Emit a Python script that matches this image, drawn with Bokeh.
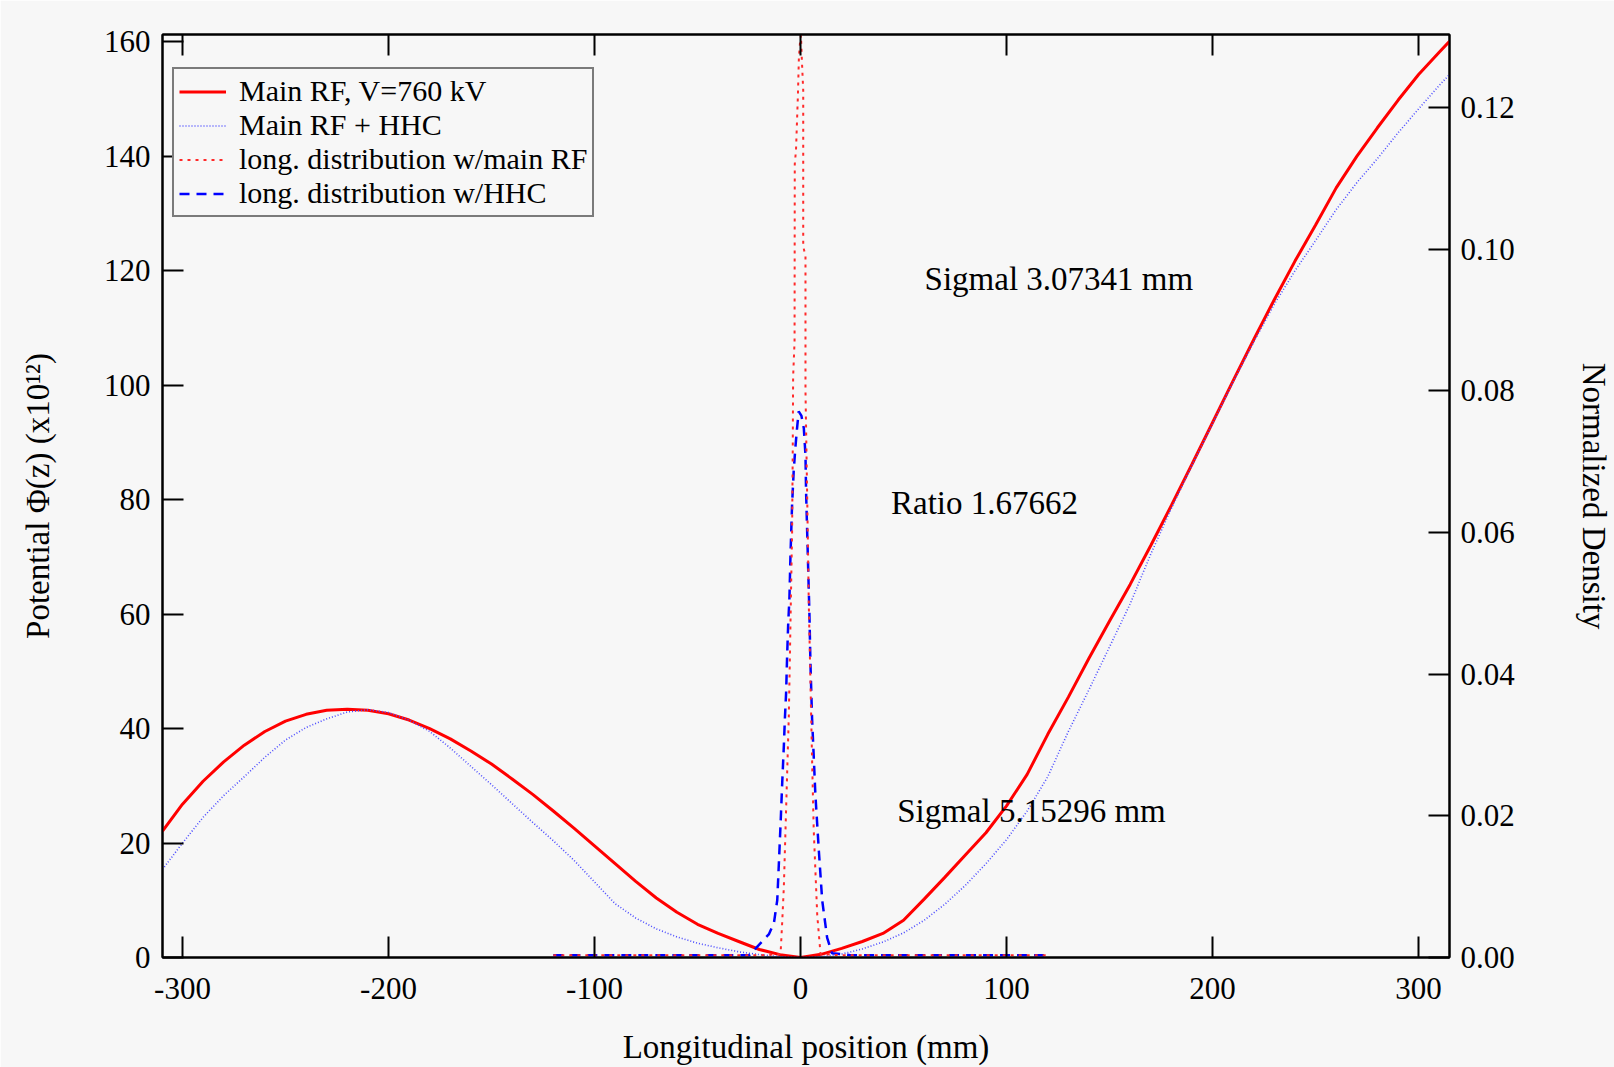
from bokeh.plotting import figure
from bokeh.models import (Range1d, LinearAxis, FixedTicker, PrintfTickFormatter,
                          Label, Legend, LegendItem)
from bokeh.embed import file_html
from bokeh.resources import INLINE

# ---------------- data ----------------
z_rf = [-309.7, -300, -290, -280, -270, -260, -250, -240, -230, -220, -210, -200,
        -190, -180, -170, -160, -150, -140, -130, -120, -110, -100, -90, -80, -70,
        -60, -50, -40, -30, -20, -10, 0, 10, 20, 30, 40, 50, 60, 70, 80, 90, 100,
        110, 120, 130, 140, 150, 160, 170, 180, 190, 200, 210, 220, 230, 240, 250,
        260, 270, 280, 290, 300, 310, 315]
phi_rf = [22.1, 26.8, 30.8, 34.2, 37.1, 39.5, 41.3, 42.5, 43.2, 43.4, 43.2, 42.6,
          41.5, 40.0, 38.2, 36.1, 33.8, 31.2, 28.5, 25.6, 22.6, 19.5, 16.4, 13.3, 10.4,
          7.9, 5.8, 4.2, 2.8, 1.4, 0.5, 0.0, 0.55, 1.6, 2.8, 4.2, 6.5, 10.2, 14.0, 17.9,
          21.8, 26.5, 32.0, 39.0, 45.5, 52.3, 58.8, 65.2, 72.0, 79.0, 86.2, 93.5,
          100.8, 108.0, 115.0, 121.7, 128.0, 134.5, 140.0, 145.0, 149.8, 154.3,
          158.2, 160.1]

z_hhc = [-309.7, -300, -290, -280, -270, -260, -250, -240, -230, -220, -210, -200,
         -190, -180, -170, -160, -150, -140, -130, -120, -110, -100, -90, -80, -70,
         -60, -50, -40, -30, -20, -10, 0, 10, 20, 30, 40, 50, 60, 70, 80, 90, 100,
         110, 120, 130, 140, 150, 160, 170, 180, 190, 200, 210, 220, 230, 240, 250,
         260, 270, 280, 290, 300, 310, 315]
phi_hhc = [15.4, 20.0, 24.5, 28.3, 31.6, 35.0, 38.0, 40.2, 41.7, 42.9, 43.3, 42.8,
           41.5, 39.5, 36.6, 33.4, 30.2, 26.9, 23.6, 20.4, 17.0, 13.2, 9.4, 6.9, 5.0,
           3.6, 2.5, 1.7, 1.0, 0.5, 0.15, 0.0, 0.15, 0.6, 1.5, 2.7, 4.3, 6.5, 9.3,
           12.6, 16.4, 20.6, 25.6, 31.6, 39.5, 46.8, 54.3, 61.8, 70.5, 78.5, 86.0,
           93.3, 100.6, 107.6, 114.2, 120.0, 125.3, 130.7, 135.4, 139.6, 144.1, 148.3,
           152.4, 154.3]

z_dist_rf = [-120, -60, -20, -9.7, -8.9, -8.1, -7.3, -6.5, -5.7, -5.2, -4.6, -4.1,
             -3.8, -3.6, -2.9, -2.8, -2.2, -1.3, -0.8, -0.3, 0.2, 0.6, 1.3, 1.3, 2.4,
             2.4, 2.9, 3.5, 4.0, 4.8, 5.6, 6.4, 8.1, 9.7, 20, 60, 120]
rho_dist_rf = [0.0003, 0.0003, 0.0003, 0.0005, 0.005, 0.010, 0.018, 0.026, 0.034, 0.042,
               0.052, 0.060, 0.071, 0.082, 0.087, 0.112, 0.114, 0.1215, 0.127, 0.129,
               0.1302, 0.127, 0.1224, 0.1004, 0.099, 0.080, 0.071, 0.060, 0.050, 0.039,
               0.028, 0.018, 0.006, 0.0005, 0.0003, 0.0003, 0.0003]

z_dist_hhc = [-120, -60, -25, -15.3, -12.9, -11.3, -10.5, -9.7, -8.9, -8.1, -7.6, -7.0,
              -6.5, -6.0, -5.4, -4.9, -4.1, -3.3, -2.5, -1.7, -0.9, 0.4, 1.6, 2.4, 2.7,
              3.2, 3.7, 4.3, 4.8, 5.6, 6.4, 7.2, 8.9, 10.5, 12.9, 15.3, 25, 60, 120]
rho_dist_hhc = [0.0003, 0.0003, 0.0003, 0.0033, 0.0049, 0.0081, 0.0134, 0.0188, 0.0246,
                0.0299, 0.0337, 0.0374, 0.0427, 0.047, 0.0507, 0.0566, 0.064, 0.0688,
                0.072, 0.0747, 0.0771, 0.0765, 0.0747, 0.0709, 0.0656, 0.0603, 0.055,
                0.0486, 0.0416, 0.0337, 0.0284, 0.023, 0.015, 0.0081, 0.0028, 0.0006,
                0.0003, 0.0003, 0.0003]

x_ticks = [-300, -200, -100, 0, 100, 200, 300]
phi_ticks = [0, 20, 40, 60, 80, 100, 120, 140, 160]
rho_ticks = [0.0, 0.02, 0.04, 0.06, 0.08, 0.10, 0.12]

legend_labels = ["Main RF, V=760 kV", "Main RF + HHC",
                 "long. distribution w/main RF", "long. distribution w/HHC"]
note_sigma_rf = "Sigmal 3.07341 mm"
note_ratio = "Ratio 1.67662"
note_sigma_hhc = "Sigmal 5.15296 mm"

x_label = "Longitudinal position (mm)"
y_label = "Potential \u03a6(z) (x10\u00b9\u00b2)"
y2_label = "Normalized Density"

# ---------------- styling ----------------
BG = "#f7f7f7"
FONT = "Liberation Serif"
TICK_SIZE = "31px"

p = figure(width=1614, height=1067,
           x_range=Range1d(-309.7, 315), y_range=Range1d(0, 161.3),
           output_backend="svg", toolbar_location=None,
           min_border_left=162, min_border_right=161,
           min_border_top=34, min_border_bottom=108,
           background_fill_color=BG, border_fill_color=BG)
p.grid.visible = False
p.outline_line_color = "black"
p.outline_line_width = 2
p.extra_y_ranges = {"dens": Range1d(0, 0.1303)}

left = p.yaxis[0]
bottom = p.xaxis[0]
right = LinearAxis(y_range_name="dens")
top = LinearAxis()
p.add_layout(right, "right")
p.add_layout(top, "above")


def style(ax):
    ax.axis_line_color = "black"
    ax.axis_line_width = 2
    ax.major_tick_line_color = "black"
    ax.major_tick_line_width = 2
    ax.major_tick_in = 21
    ax.major_tick_out = 0
    ax.minor_tick_in = 0
    ax.minor_tick_out = 0
    ax.major_label_text_font = FONT
    ax.major_label_text_font_size = TICK_SIZE
    ax.major_label_text_color = "black"
    ax.axis_label_text_font = FONT
    ax.axis_label_text_font_size = "33px"
    ax.axis_label_text_font_style = "normal"
    ax.axis_label_text_color = "black"


for ax in (left, bottom, right, top):
    style(ax)

bottom.ticker = FixedTicker(ticks=x_ticks)
bottom.formatter = PrintfTickFormatter(format="%d")
bottom.major_label_standoff = 20
bottom.axis_label = x_label
bottom.axis_label_standoff = 27

top.ticker = FixedTicker(ticks=x_ticks)
top.major_label_text_font_size = "1px"
top.major_label_text_alpha = 0
top.major_label_standoff = 0

left.ticker = FixedTicker(ticks=phi_ticks)
left.formatter = PrintfTickFormatter(format="%d")
left.major_label_standoff = 12
left.axis_label = y_label
left.axis_label_standoff = 45

right.ticker = FixedTicker(ticks=rho_ticks)
right.formatter = PrintfTickFormatter(format="%.2f")
right.major_label_standoff = 11
right.axis_label = y2_label
right.axis_label_standoff = 58

r1 = p.line(z_rf, phi_rf, line_color="#ff0000", line_width=3)
r2 = p.line(z_hhc, phi_hhc, line_color="#4d4dff", line_width=1.6, line_dash="1 2")
r4 = p.line(z_dist_hhc, rho_dist_hhc, y_range_name="dens",
            line_color="#0000ff", line_width=2.5, line_dash="10 7")
r3 = p.line(z_dist_rf, rho_dist_rf, y_range_name="dens",
            line_color="#ff2a2a", line_width=2, line_dash="3 5")

legend = Legend(items=[LegendItem(label=legend_labels[0], renderers=[r1]),
                       LegendItem(label=legend_labels[1], renderers=[r2]),
                       LegendItem(label=legend_labels[2], renderers=[r3]),
                       LegendItem(label=legend_labels[3], renderers=[r4])],
                location=(10, 740),
                label_text_font=FONT, label_text_font_size="30px",
                label_text_color="black",
                label_height=33, glyph_height=33, glyph_width=47,
                label_standoff=13, spacing=0, padding=5, margin=0,
                border_line_color="black", border_line_width=2,
                background_fill_color=BG, background_fill_alpha=1.0)
p.add_layout(legend)

for txt, x, y in ((note_sigma_rf, 60.2, 118.5), (note_ratio, 43.9, 79.5),
                  (note_sigma_hhc, 46.9, 25.6)):
    p.add_layout(Label(x=x, y=y, text=txt, text_font=FONT, text_font_size="33px",
                       text_color="black", text_baseline="alphabetic"))

open("out.html", "w").write(file_html(p, INLINE))
